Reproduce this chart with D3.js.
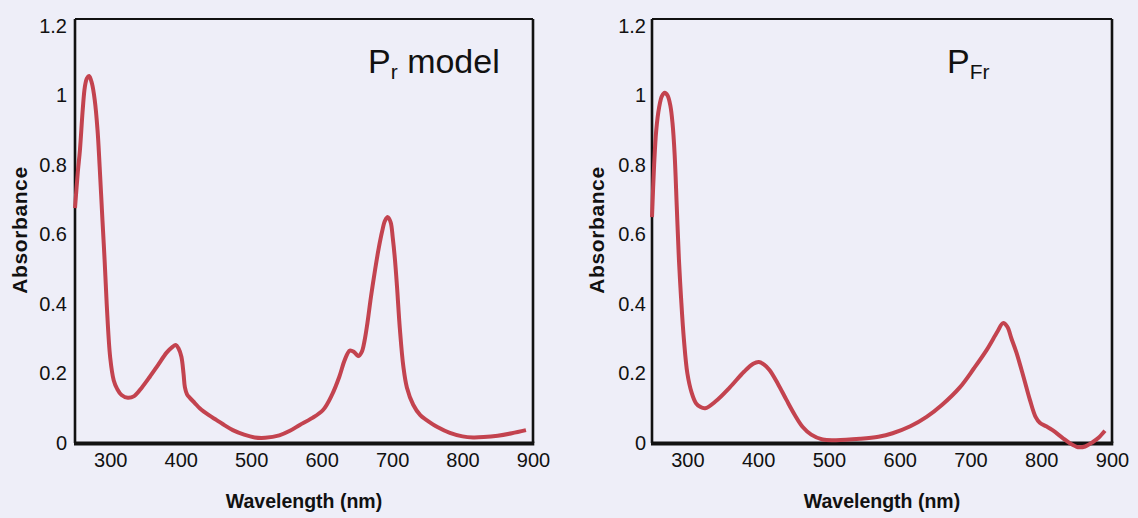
<!DOCTYPE html>
<html>
<head>
<meta charset="utf-8">
<script src="https://cdn.jsdelivr.net/npm/d3@7"></script>
<style>
  html, body { margin: 0; padding: 0; background: #eeeef8; }
  svg { display: block; }
  text { font-family: "Liberation Sans", Arial, Helvetica, sans-serif; fill: #111; }
</style>
</head>
<body>
<svg id="chart" width="1138" height="518"></svg>
<script>
// Tick values shared by both panels
const wavelengthTicks = [300, 400, 500, 600, 700, 800, 900];
const absorbanceTicks = [0, 0.2, 0.4, 0.6, 0.8, 1, 1.2];

// Pr model absorption spectrum (nm, absorbance)
const prWavelength = [250, 254, 257, 261, 264, 267, 270, 274, 278, 282, 285, 289, 292, 295, 300, 305, 310, 316, 325, 334, 345, 356, 368, 380, 388, 393, 397, 401, 404, 406, 409, 413, 420, 427, 440, 451, 463, 474, 490, 505, 520, 540, 555, 569, 585, 602, 615, 625, 633, 640, 646, 652, 657, 661, 665, 670, 676, 681, 686, 690, 694, 698, 701, 704, 707, 711, 716, 721, 730, 740, 749, 765, 782, 800, 815, 830, 850, 870, 890];
const prAbsorbance = [0.676, 0.78, 0.843, 0.96, 1.025, 1.05, 1.056, 1.035, 0.987, 0.90, 0.795, 0.64, 0.527, 0.40, 0.245, 0.18, 0.155, 0.138, 0.13, 0.135, 0.16, 0.19, 0.225, 0.26, 0.276, 0.282, 0.272, 0.248, 0.20, 0.16, 0.14, 0.13, 0.115, 0.10, 0.08, 0.066, 0.05, 0.037, 0.024, 0.016, 0.015, 0.022, 0.035, 0.052, 0.07, 0.095, 0.14, 0.19, 0.24, 0.266, 0.262, 0.25, 0.262, 0.295, 0.345, 0.42, 0.50, 0.56, 0.61, 0.64, 0.65, 0.635, 0.59, 0.53, 0.45, 0.33, 0.22, 0.16, 0.11, 0.08, 0.066, 0.045, 0.029, 0.019, 0.016, 0.017, 0.021, 0.028, 0.037];

// Pfr absorption spectrum (nm, absorbance)
const pfrWavelength = [250, 253, 256, 260, 264, 268, 272, 276, 279, 282, 285, 288, 291, 295, 300, 306, 312, 318, 325, 340, 360, 380, 393, 401, 408, 416, 428, 440, 452, 463, 475, 491, 510, 544, 570, 590, 615, 638, 660, 685, 705, 723, 738, 746, 752, 758, 765, 775, 784, 792, 798, 807, 816, 830, 840, 852, 862, 873, 881, 890];
const pfrAbsorbance = [0.65, 0.80, 0.90, 0.965, 0.998, 1.008, 1.0, 0.97, 0.92, 0.83, 0.68, 0.53, 0.42, 0.30, 0.20, 0.145, 0.115, 0.104, 0.10, 0.12, 0.16, 0.205, 0.228, 0.233, 0.226, 0.21, 0.17, 0.124, 0.08, 0.046, 0.024, 0.010, 0.008, 0.012, 0.018, 0.028, 0.048, 0.075, 0.11, 0.16, 0.215, 0.268, 0.32, 0.345, 0.335, 0.30, 0.26, 0.19, 0.124, 0.075, 0.058, 0.048, 0.037, 0.015, 0.0, -0.012, -0.01, 0.003, 0.015, 0.035];

const panels = [
  { left: 75, right: 533, wl: prWavelength, ab: prAbsorbance, title: "P", sub: "r", rest: " model", titleX: 368 },
  { left: 652, right: 1112, wl: pfrWavelength, ab: pfrAbsorbance, title: "P", sub: "Fr", rest: "", titleX: 947 }
];

const frameTop = 19;
const svg = d3.select("#chart");

panels.forEach(p => {
  const x = d3.scaleLinear().domain([250, 900]).range([p.left, p.right]);
  const y = d3.scaleLinear().domain([0, 1.2]).range([443, 26]);
  const g = svg.append("g");

  // plot frame: thin top, heavier sides, heavy baseline
  g.append("line").attr("x1", p.left).attr("x2", p.right).attr("y1", frameTop).attr("y2", frameTop)
    .attr("stroke", "#111").attr("stroke-width", 1.8);
  g.append("line").attr("x1", p.right).attr("x2", p.right).attr("y1", frameTop).attr("y2", y(0))
    .attr("stroke", "#111").attr("stroke-width", 2.6);
  g.append("line").attr("x1", p.left).attr("x2", p.left).attr("y1", frameTop).attr("y2", y(0))
    .attr("stroke", "#111").attr("stroke-width", 2.6);
  g.append("line").attr("x1", p.left - 1).attr("x2", p.right + 1.3).attr("y1", y(0) + 0.5).attr("y2", y(0) + 0.5)
    .attr("stroke", "#111").attr("stroke-width", 4.2);

  // x axis (labels only)
  const xAxis = d3.axisBottom(x).tickValues(wavelengthTicks).tickSize(0).tickPadding(0).tickFormat(d3.format("d"));
  const gx = g.append("g").attr("transform", `translate(0, ${y(0) + 24})`).call(xAxis);
  gx.select(".domain").remove();
  gx.selectAll("text").attr("font-size", 20).attr("dy", 0).attr("fill", "#111");

  // y axis (labels only)
  const yAxis = d3.axisLeft(y).tickValues(absorbanceTicks).tickSize(0).tickPadding(p.left === 75 ? 8 : 6)
    .tickFormat(d => d3.format("")(+d.toFixed(1)));
  const gy = g.append("g").attr("transform", `translate(${p.left}, 0)`).call(yAxis);
  gy.select(".domain").remove();
  gy.selectAll("text").attr("font-size", 20).attr("fill", "#111");

  // axis titles
  g.append("text")
    .attr("transform", `translate(${p.left - 55}, 230) rotate(-90)`)
    .attr("text-anchor", "middle").attr("dy", "0.35em")
    .attr("font-size", 21).attr("font-weight", "bold").attr("letter-spacing", 0.6)
    .text("Absorbance");
  g.append("text")
    .attr("x", (p.left + p.right) / 2).attr("y", 508)
    .attr("text-anchor", "middle")
    .attr("font-size", 19.5).attr("font-weight", "bold")
    .text("Wavelength (nm)");

  // panel title with subscript
  const t = g.append("text").attr("x", p.titleX).attr("y", 73).attr("font-size", 34);
  t.append("tspan").text(p.title);
  t.append("tspan").attr("font-size", 21).attr("dy", 6).text(p.sub);
  if (p.rest) t.append("tspan").attr("dy", -6).text(p.rest);

  // spectrum
  const line = d3.line()
    .x((d, i) => x(p.wl[i]))
    .y(d => y(d))
    .curve(d3.curveCatmullRom.alpha(0.5));
  g.append("path")
    .attr("d", line(p.ab))
    .attr("fill", "none")
    .attr("stroke", "#c3434f")
    .attr("stroke-width", 4)
    .attr("stroke-linejoin", "round")
    .attr("stroke-linecap", "butt");
});
</script>
</body>
</html>
